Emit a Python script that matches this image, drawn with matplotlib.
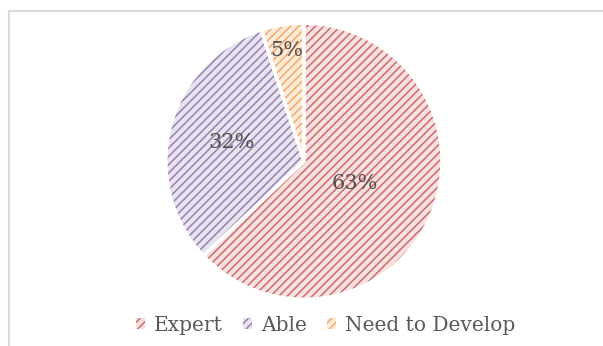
import matplotlib
matplotlib.use("Agg")
import matplotlib.pyplot as plt
from matplotlib.patches import Rectangle, Patch
import numpy as np

categories = ["Expert", "Able", "Need to Develop"]
values = [63, 32, 5]
labels = ["63%", "32%", "5%"]
hatch_colors = ["#CF6A67", "#9680B4", "#F8A865"]
face_colors = ["#F8E2E1", "#E8E3EF", "#FDEBDB"]
label_dist = [0.40, 0.54, 0.81]

plt.rcParams["hatch.linewidth"] = 1.1
fig = plt.figure(figsize=(6.03, 3.46), dpi=100)

# frame
fig.patches.append(Rectangle((8.5 / 603, -0.1), 1.2, (346 - 10.5) / 346 + 0.1,
                             transform=fig.transFigure, fill=False,
                             edgecolor="#D9D9D9", linewidth=1.5))

ax = fig.add_axes([0.275, 0.135, 0.458, 0.798])
wedges, _ = ax.pie(values, startangle=90, counterclock=False, radius=1,
                   colors=face_colors,
                   wedgeprops=dict(linewidth=0))
for w, hc in zip(wedges, hatch_colors):
    w.set_hatch("////")
    w.set_edgecolor(hc)
    w.set_linewidth(0)
# white separators
ax.pie(values, startangle=90, counterclock=False, radius=1,
       colors=["none"] * 3,
       wedgeprops=dict(linewidth=2.5, edgecolor="white", fill=False))

for w, lab, d in zip(wedges, labels, label_dist):
    ang = np.deg2rad((w.theta1 + w.theta2) / 2)
    ax.text(d * np.cos(ang), d * np.sin(ang), lab, ha="center", va="center",
            fontsize=15, color="#505050", family="DejaVu Serif")
ax.set_xlim(-1.0, 1.0)
ax.set_ylim(-1.0, 1.0)
ax.set_aspect("equal")
ax.axis("off")

handles = [Patch(facecolor=fc, edgecolor=hc, hatch="////", linewidth=0)
           for fc, hc in zip(face_colors, hatch_colors)]
fig.legend(handles, categories, loc="center", bbox_to_anchor=(0.54, 0.06),
           ncol=3, frameon=False, handlelength=0.45, handleheight=0.45,
           handletextpad=0.45, columnspacing=1.0,
           prop=dict(family="DejaVu Serif", size=14.5),
           labelcolor="#595959")

fig.savefig("out.png", dpi=100)
